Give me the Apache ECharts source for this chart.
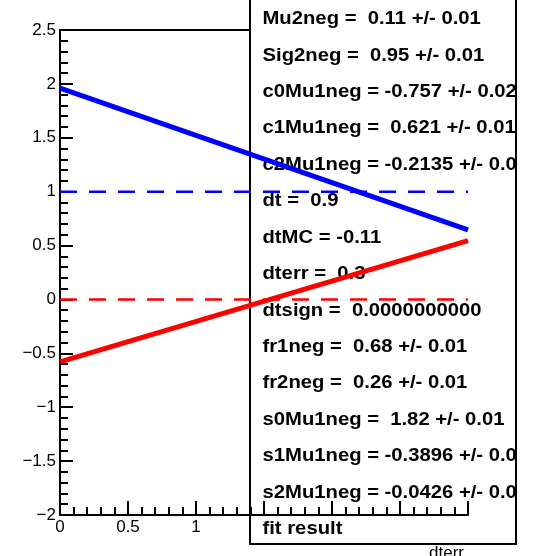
<!DOCTYPE html>
<html>
<head>
<meta charset="utf-8">
<script src="https://cdn.jsdelivr.net/npm/echarts@6/dist/echarts.min.js"></script>
<style>html,body{margin:0;padding:0;background:#fff;}#c{width:535px;height:556px;}</style>
</head>
<body>
<div id="c"></div>
<script>
// ---- data ----
const xRange = [0, 3];
const yRange = [-2, 2.5];
const blueLineX = [0, 3];
const blueLineY = [1.96, 0.645];
const redLineX = [0, 3];
const redLineY = [-0.58, 0.545];
const blueRefY = 1;
const redRefY = 0;
const xTitle = 'dterr';
const statLines = [
  'Mu2neg =  0.11 +/- 0.01',
  'Sig2neg =  0.95 +/- 0.01',
  'c0Mu1neg = -0.757 +/- 0.020',
  'c1Mu1neg =  0.621 +/- 0.010',
  'c2Mu1neg = -0.2135 +/- 0.0040',
  'dt =  0.9',
  'dtMC = -0.11',
  'dterr =  0.3',
  'dtsign =  0.0000000000',
  'fr1neg =  0.68 +/- 0.01',
  'fr2neg =  0.26 +/- 0.01',
  's0Mu1neg =  1.82 +/- 0.01',
  's1Mu1neg = -0.3896 +/- 0.0040',
  's2Mu1neg = -0.0426 +/- 0.0010',
  'fit result'
];

const toPairs = (xs, ys) => xs.map((x, i) => [x, ys[i]]);

const chart = echarts.init(document.getElementById('c'), null, {renderer: 'canvas'});

const statTexts = statLines.map((t, i) => ({
  type: 'text',
  x: 262.5,
  y: 19.2 + 36.43 * i,
  scaleX: 1.125,
  z: 6,
  style: {
    text: t,
    fill: '#000',
    font: 'bold 18px "Liberation Sans", Arial, sans-serif',
    textAlign: 'left',
    textVerticalAlign: 'middle'
  }
}));

const axisFont = '"Liberation Sans", Arial, sans-serif';

chart.setOption({
  animation: false,
  backgroundColor: '#fff',
  grid: {left: 60, right: 67, top: 30, bottom: 41, show: false},
  xAxis: [{
    type: 'value', min: xRange[0], max: xRange[1], interval: 0.5,
    position: 'bottom', z: 10,
    axisLine: {show: true, onZero: false, lineStyle: {color: '#000', width: 2}},
    axisTick: {show: true, inside: true, length: 14, lineStyle: {color: '#000', width: 2}},
    minorTick: {show: true, splitNumber: 5, length: 8, lineStyle: {color: '#000', width: 2}},
    splitLine: {show: false}, minorSplitLine: {show: false},
    axisLabel: {
      show: true, margin: 4, color: '#000', fontSize: 17, fontFamily: axisFont,
      showMinLabel: true, showMaxLabel: true,
      formatter: v => (v <= 1 ? String(v) : '')
    }
  }, {
    type: 'value', min: xRange[0], max: xRange[1], interval: 0.5,
    position: 'top', z: 1,
    axisLine: {show: true, onZero: false, lineStyle: {color: '#000', width: 2}},
    axisTick: {show: false}, axisLabel: {show: false}, splitLine: {show: false}
  }],
  yAxis: {
    type: 'value', min: yRange[0], max: yRange[1], interval: 0.5, z: 10,
    axisLine: {show: true, onZero: false, lineStyle: {color: '#000', width: 2}},
    axisTick: {show: true, inside: true, length: 13, lineStyle: {color: '#000', width: 2}},
    minorTick: {show: true, splitNumber: 5, length: 8, lineStyle: {color: '#000', width: 2}},
    splitLine: {show: false}, minorSplitLine: {show: false},
    axisLabel: {
      show: true, margin: 4, color: '#000', fontSize: 17, fontFamily: axisFont,
      showMinLabel: true, showMaxLabel: true,
      formatter: v => String(v).replace('-', '\u2212')
    }
  },
  series: [
    {
      type: 'line', name: 'blueRef', z: 20, symbol: 'none', silent: true,
      data: toPairs(xRange, [blueRefY, blueRefY]),
      lineStyle: {color: '#0000ff', width: 2.5, type: [17, 12]}
    },
    {
      type: 'line', name: 'redRef', z: 20, symbol: 'none', silent: true,
      data: toPairs(xRange, [redRefY, redRefY]),
      lineStyle: {color: '#ff0000', width: 2.5, type: [17, 12]}
    },
    {
      type: 'line', name: 'blue', z: 21, symbol: 'none', silent: true,
      data: toPairs(blueLineX, blueLineY),
      lineStyle: {color: '#0000ff', width: 5}
    },
    {
      type: 'line', name: 'red', z: 21, symbol: 'none', silent: true,
      data: toPairs(redLineX, redLineY),
      lineStyle: {color: '#ff0000', width: 5}
    }
  ],
  graphic: [
    {type: 'text', x: 464, y: 545, z: 4,
     style: {text: xTitle, fill: '#000', font: '17px "Liberation Sans", Arial, sans-serif',
             textAlign: 'right', textVerticalAlign: 'top'}},
    {type: 'rect', z: 5, shape: {x: 250, y: -10, width: 266, height: 554},
     style: {fill: '#fff', stroke: null}},
    ...statTexts,
    {type: 'rect', z: 7, shape: {x: 516, y: -10, width: 40, height: 580},
     style: {fill: '#fff', stroke: null}},
    {type: 'rect', z: 8, shape: {x: 250, y: -10, width: 266, height: 554},
     style: {fill: null, stroke: '#000', lineWidth: 2}}
  ]
});
</script>
</body>
</html>
